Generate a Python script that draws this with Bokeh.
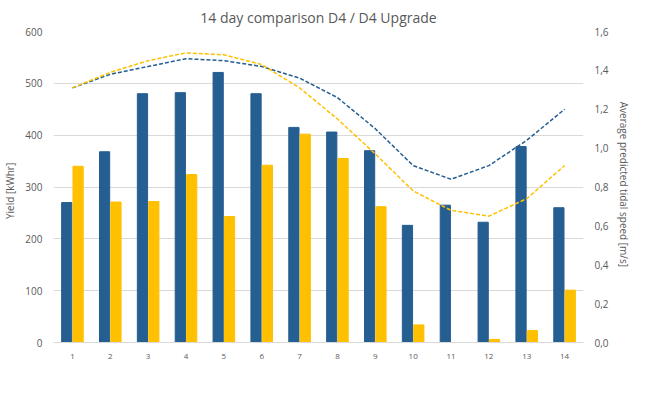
from bokeh.plotting import figure
from bokeh.models import Range1d, LinearAxis, FixedTicker, Legend, LegendItem
from bokeh.embed import file_html
from bokeh.resources import INLINE

days = list(range(1, 15))
upg_yield = [270, 368, 480, 482, 521, 480, 415, 406, 370, 226, 265, 232, 378, 260]
d4_yield = [340, 271, 272, 324, 243, 342, 402, 355, 262, 34, 0, 6, 23, 101]
upg_speed = [1.31, 1.38, 1.42, 1.46, 1.45, 1.42, 1.36, 1.26, 1.10, 0.91, 0.84, 0.91, 1.04, 1.20]
d4_speed = [1.31, 1.39, 1.45, 1.49, 1.48, 1.43, 1.31, 1.15, 0.97, 0.78, 0.68, 0.65, 0.74, 0.91]

BLUE = "#255E91"
YEL = "#FFC000"
F = "Open Sans"

p = figure(width=633, height=397, output_backend="svg", toolbar_location=None,
           x_range=Range1d(0.5, 14.5), y_range=Range1d(0, 600),
           title="14 day comparison D4 / D4 Upgrade")
p.title.align = "center"
p.title.text_font = F
p.title.text_font_size = "14px"
p.title.text_font_style = "normal"
p.title.text_color = "#595959"
p.outline_line_color = None
p.min_border_left = 10
p.min_border_right = 10
p.min_border_bottom = 55
p.extra_y_ranges = {"s": Range1d(0, 1.6)}

xl = [d - 0.15 for d in days]
xr = [d + 0.15 for d in days]
b1 = p.vbar(x=xl, top=upg_yield, width=0.27, color=BLUE)
b2 = p.vbar(x=xr, top=d4_yield, width=0.27, color=YEL)
l1 = p.line(days, upg_speed, y_range_name="s", color=BLUE, line_dash="4 2", line_width=1.5)
l2 = p.line(days, d4_speed, y_range_name="s", color=YEL, line_dash="4 2", line_width=1.5)

p.xaxis.ticker = FixedTicker(ticks=days)
p.xaxis.major_label_text_font_size = "8px"
p.yaxis.ticker = FixedTicker(ticks=list(range(0, 601, 100)))
p.yaxis.axis_label = "Yield    [kWhr]"
for ax in [p.xaxis[0], p.yaxis[0]]:
    ax.major_tick_line_color = None
    ax.minor_tick_line_color = None
    ax.major_label_text_color = "#595959"
    ax.major_label_text_font = F
    ax.axis_label_text_font = F
    ax.axis_label_text_font_style = "normal"
    ax.axis_label_text_color = "#595959"
    ax.axis_label_text_font_size = "10px"
p.yaxis.major_label_text_font_size = "10px"
p.yaxis.axis_line_color = None
p.xaxis.axis_line_color = "#D9D9D9"
p.xgrid.grid_line_color = None
p.ygrid.grid_line_color = "#D9D9D9"

rt = [i / 10 for i in range(0, 17, 2)]
ra = LinearAxis(y_range_name="s", ticker=FixedTicker(ticks=rt),
                axis_label="Average predicted tidal speed   [m/s]")
ra.major_label_overrides = {t: f"{t:.1f}".replace(".", ",") for t in rt}
ra.axis_line_color = None
ra.major_tick_line_color = None
ra.minor_tick_line_color = None
ra.major_label_text_color = "#595959"
ra.major_label_text_font = F
ra.major_label_text_font_size = "10px"
ra.axis_label_text_font = F
ra.axis_label_text_font_style = "normal"
ra.axis_label_text_color = "#595959"
ra.axis_label_text_font_size = "10px"
p.add_layout(ra, "right")

leg = Legend(items=[LegendItem(label="D4 Upgrade yield [kWhr]", renderers=[b1]),
                    LegendItem(label="D4 yield [kWhr]", renderers=[b2]),
                    LegendItem(label="D4 Upgrade tidal speed [m/s]", renderers=[l1]),
                    LegendItem(label="D4 tidal speed [m/s]", renderers=[l2])],
             orientation="horizontal", location=(-20, -62), border_line_color=None,
             background_fill_alpha=0,
             label_text_font=F, label_text_font_size="10px", label_text_color="#595959",
             spacing=22, glyph_width=34, glyph_height=8, padding=0, margin=0,
             label_standoff=6)
p.add_layout(leg, "center")

open("out.html", "w").write(file_html(p, INLINE))
